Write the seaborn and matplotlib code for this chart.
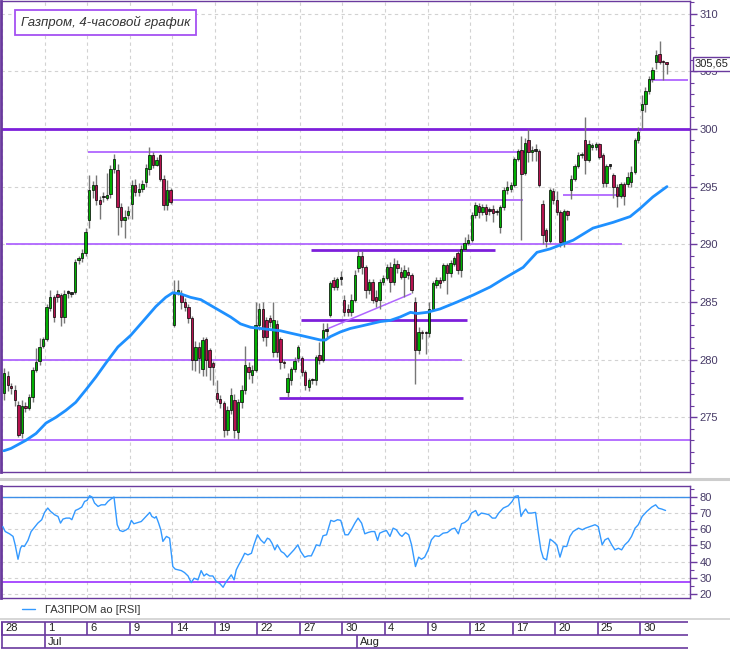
import matplotlib
matplotlib.use('Agg')
import numpy as np
import seaborn as sns
import matplotlib.pyplot as plt
import matplotlib.transforms as mtrans
from matplotlib.lines import Line2D
from matplotlib.ticker import MultipleLocator

# 4-hour candles, 28 Jun - 31 Aug (4 bars per trading day)
opens = [
    277.1, 278.6, 277.7, 277.4, 276.1, 273.6, 276.0, 275.8, 276.8, 279.1, 279.9, 281.2,
    281.8, 284.5, 285.4, 285.7, 285.6, 283.7, 285.8, 285.7, 285.9, 288.6, 288.8, 289.2,
    292.1, 294.7, 295.1, 293.8, 294.1, 294.0, 294.4, 296.5, 296.4, 293.2, 292.1, 292.5,
    293.5, 295.1, 294.5, 294.8, 295.4, 296.5, 297.7, 296.9, 297.7, 295.7, 293.4, 294.7,
    283.0, 285.9, 285.7, 285.0, 284.6, 283.6, 280.0, 281.1, 279.2, 281.8, 280.8, 279.7,
    277.1, 276.6, 276.2, 273.9, 275.6, 276.5, 273.7, 276.3, 277.4, 279.4, 278.7, 279.1,
    283.0, 284.4, 283.4, 283.6, 280.7, 283.1, 281.8, 279.8, 277.2, 278.2, 279.2, 280.1,
    280.1, 278.9, 277.6, 278.2, 278.2, 280.4, 280.0, 282.5, 283.9, 286.9, 286.3, 287.0,
    285.2, 284.4, 284.1, 285.2, 287.9, 289.0, 288.0, 286.0, 286.7, 285.4, 285.2, 286.7,
    287.1, 288.0, 286.7, 288.3, 287.6, 287.2, 287.6, 287.3, 285.0, 280.8, 282.4, 282.3,
    282.3, 284.4, 286.5, 286.9, 286.9, 288.2, 287.5, 288.3, 289.2, 287.8, 289.6, 290.1,
    290.4, 292.5, 293.3, 292.8, 293.2, 292.9, 293.1, 292.8, 291.5, 293.2, 294.7, 294.8,
    295.1, 297.4, 298.2, 296.2, 299.0, 298.0, 298.1, 298.1, 293.5, 291.2, 290.3, 294.6,
    293.8, 292.8, 290.2, 292.9, 294.7, 295.7, 296.8, 297.7, 299.0, 297.3, 298.4, 298.4,
    298.7, 297.7, 295.3, 296.8, 296.0, 295.0, 294.2, 295.2, 295.2, 295.4, 296.3, 299.0,
    301.6, 302.2, 303.3, 304.3, 305.8, 306.5, 305.9, 305.7,
]
highs = [
    279.3, 279.0, 278.0, 277.8, 276.4, 276.5, 276.3, 277.0, 279.4, 281.0, 281.9, 282.0,
    284.8, 286.0, 285.6, 286.0, 285.8, 286.0, 286.0, 285.9, 288.7, 289.0, 289.6, 291.4,
    296.0, 295.5, 296.0, 294.2, 294.5, 296.2, 296.9, 297.8, 297.0, 293.6, 293.0, 293.3,
    295.6, 295.7, 295.3, 295.6, 297.0, 298.4, 298.0, 297.6, 297.8, 296.0, 295.6, 294.9,
    286.9, 286.9, 286.0, 285.3, 284.8, 283.8, 281.6, 281.5, 282.0, 282.0, 281.0, 279.9,
    278.2, 276.9, 276.4, 276.0, 277.5, 277.0, 276.6, 277.8, 281.2, 279.8, 279.5, 285.0,
    284.9, 285.0, 283.7, 283.9, 285.0, 283.4, 282.0, 280.0, 278.8, 279.4, 280.2, 281.3,
    280.3, 279.1, 278.4, 278.4, 280.4, 281.5, 283.2, 283.2, 286.8, 287.2, 287.2, 287.7,
    285.6, 284.8, 285.7, 287.8, 289.5, 289.4, 288.2, 287.0, 287.0, 286.0, 287.0, 287.3,
    288.3, 288.5, 288.8, 288.6, 288.0, 288.2, 288.0, 287.5, 285.4, 282.8, 282.6, 282.5,
    285.0, 286.8, 287.2, 287.2, 288.4, 288.4, 288.6, 289.0, 289.4, 289.9, 290.6, 290.9,
    292.8, 293.7, 293.6, 293.5, 293.5, 293.2, 293.4, 293.1, 293.4, 295.0, 295.5, 295.4,
    297.6, 298.3, 299.4, 299.2, 300.0, 298.5, 298.7, 298.3, 293.8, 291.4, 294.9, 294.9,
    294.6, 293.0, 293.1, 293.0, 296.0, 297.0, 298.0, 298.0, 301.0, 299.0, 298.8, 298.9,
    298.8, 297.9, 297.0, 297.0, 296.2, 295.2, 295.4, 295.4, 296.3, 296.8, 299.2, 300.2,
    302.9, 303.6, 304.6, 305.4, 306.8, 307.6, 306.0, 305.8,
]
lows = [
    276.5, 277.3, 277.0, 276.0, 273.3, 273.2, 275.5, 275.6, 276.3, 278.9, 279.5, 281.0,
    281.6, 284.2, 283.3, 285.0, 282.9, 283.2, 285.3, 285.4, 285.7, 288.3, 288.5, 289.0,
    291.4, 294.0, 293.4, 292.2, 293.7, 293.8, 294.0, 296.2, 290.8, 291.5, 290.5, 292.2,
    292.2, 294.2, 294.2, 294.5, 295.0, 296.0, 296.6, 296.8, 295.5, 293.0, 293.0, 293.5,
    282.8, 285.6, 284.4, 284.2, 283.2, 279.1, 279.0, 278.8, 278.6, 278.6, 278.2, 277.8,
    276.3, 275.8, 273.3, 273.5, 275.3, 273.2, 273.1, 275.8, 277.0, 278.3, 278.0, 278.9,
    282.6, 281.6, 281.2, 282.8, 280.2, 280.2, 279.2, 279.3, 276.8, 277.8, 278.9, 279.8,
    278.6, 277.4, 277.3, 277.9, 277.8, 279.6, 279.8, 282.0, 283.7, 286.0, 286.0, 286.5,
    283.8, 283.8, 283.8, 285.0, 287.6, 287.4, 285.3, 285.7, 284.9, 284.6, 284.4, 286.5,
    286.9, 285.9, 286.5, 287.5, 287.0, 285.4, 287.0, 285.8, 277.9, 280.5, 281.8, 280.5,
    282.0, 284.2, 286.2, 286.2, 286.7, 285.7, 287.2, 288.1, 287.4, 287.2, 289.4, 289.9,
    290.2, 292.3, 292.3, 292.5, 292.0, 292.5, 291.9, 292.5, 291.0, 293.0, 294.4, 294.5,
    295.0, 297.2, 290.4, 296.0, 297.1, 297.2, 297.2, 295.0, 290.0, 289.8, 290.1, 293.5,
    292.5, 289.8, 289.8, 292.1, 293.9, 295.5, 296.6, 297.5, 296.1, 297.1, 298.2, 298.2,
    297.4, 295.0, 295.0, 296.5, 294.0, 293.2, 294.0, 293.4, 295.0, 295.0, 296.1, 298.8,
    300.0, 301.5, 303.0, 304.1, 305.2, 305.6, 304.2, 304.8,
]
closes = [
    278.8, 277.8, 277.5, 276.5, 273.5, 276.0, 275.8, 276.8, 279.1, 279.8, 281.1, 281.8,
    284.6, 285.4, 283.7, 285.4, 283.7, 285.7, 285.8, 285.7, 288.5, 288.8, 289.2, 291.1,
    294.7, 295.1, 293.8, 293.5, 294.1, 294.3, 296.5, 297.4, 293.2, 292.1, 292.4, 292.9,
    295.1, 294.5, 294.8, 295.2, 296.6, 297.7, 296.9, 297.3, 295.7, 293.4, 294.7, 293.7,
    285.7, 286.0, 285.0, 284.6, 283.6, 280.0, 281.1, 280.1, 281.7, 280.0, 279.4, 279.4,
    276.6, 276.2, 273.9, 275.6, 276.9, 273.9, 276.3, 277.4, 279.5, 278.9, 279.1, 283.0,
    284.4, 282.0, 282.0, 283.3, 283.4, 280.7, 279.8, 279.7, 278.4, 279.2, 279.9, 281.1,
    278.9, 277.8, 278.2, 278.2, 280.2, 280.0, 282.6, 282.5, 286.6, 286.3, 287.0, 287.0,
    284.1, 284.1, 285.2, 287.3, 289.0, 288.0, 286.0, 286.7, 285.2, 285.1, 286.7, 287.1,
    288.0, 286.7, 288.3, 287.9, 287.2, 287.8, 287.3, 286.0, 280.8, 282.4, 282.3, 282.3,
    284.4, 286.6, 286.9, 286.6, 288.2, 287.5, 288.4, 288.8, 287.8, 289.6, 290.1, 290.4,
    292.5, 293.4, 292.8, 293.2, 292.6, 292.9, 292.7, 292.8, 293.2, 294.7, 295.0, 295.1,
    297.4, 298.1, 296.1, 298.8, 298.0, 298.2, 298.1, 295.1, 290.8, 290.3, 294.7, 293.8,
    292.8, 290.2, 292.9, 292.5, 295.7, 296.8, 297.7, 297.8, 297.3, 298.7, 298.6, 298.7,
    297.6, 295.3, 296.8, 296.8, 295.0, 294.2, 295.2, 294.2, 295.8, 296.3, 299.0, 299.7,
    302.2, 303.3, 304.3, 305.1, 306.4, 305.8, 305.8, 305.65,
]
last_price = 305.65

# moving average (bar position, value)
ma_points = [
    (-0.1, 272.1), (1.9, 272.3), (6.1, 273.0), (9.0, 273.6), (11.8, 274.5), (14.6, 275.0),
    (17.4, 275.6), (20.2, 276.3), (23.1, 277.4), (25.9, 278.5), (28.7, 279.7), (32.1, 281.1),
    (35.7, 282.1), (39.4, 283.4), (42.8, 284.6), (45.6, 285.4), (47.6, 285.8), (49.8, 285.7),
    (52.6, 285.4), (55.5, 285.2), (58.3, 284.7), (61.1, 284.2), (63.9, 283.7), (66.7, 283.1),
    (69.6, 282.8), (72.4, 282.7), (75.2, 282.6), (78.0, 282.5), (80.8, 282.3), (83.7, 282.1),
    (86.5, 281.9), (89.3, 281.7), (90.7, 281.7), (92.1, 282.0), (94.9, 282.4), (97.7, 282.7),
    (100.6, 282.9), (103.4, 283.1), (106.2, 283.3), (109.0, 283.4), (111.8, 283.7), (114.7, 284.1),
    (116.6, 284.0), (119.4, 284.1), (123.1, 284.4), (127.9, 285.0), (132.4, 285.6), (137.2, 286.3),
    (140.9, 287.0), (146.5, 288.0), (150.4, 289.3), (154.1, 289.6), (160.6, 290.35), (166.2, 291.4),
    (171.9, 291.9), (176.7, 292.4), (179.5, 293.1), (183.1, 294.1), (187.1, 295.0),
]

# RSI (bar position, value)
rsi_points = [
    (-0.4, 61.6), (0.3, 58.5), (1.5, 57.1), (2.5, 55.5), (3.1, 50.3), (3.9, 41.4), (4.6, 48.2),
    (5.0, 49.7), (5.7, 49.3), (6.7, 53.0), (7.6, 58.5), (8.6, 61.2), (9.5, 63.7), (10.6, 65.8),
    (11.4, 70.3), (12.3, 73.0), (13.1, 70.9), (13.7, 69.9), (14.2, 68.9), (15.2, 67.8), (15.9, 63.7),
    (16.6, 66.2), (17.5, 66.8), (18.5, 66.8), (19.1, 65.8), (20.1, 71.5), (21.0, 72.4), (21.9, 73.6),
    (22.7, 77.1), (23.4, 77.7), (24.1, 80.6), (24.8, 79.8), (25.5, 76.1), (26.5, 74.0), (27.4, 75.0),
    (28.5, 75.0), (29.3, 77.1), (30.1, 78.5), (31.0, 79.8), (31.9, 62.7), (32.6, 59.2), (33.5, 58.5),
    (34.5, 59.6), (35.1, 60.6), (35.9, 65.4), (36.6, 63.3), (37.8, 64.1), (38.7, 64.7), (39.6, 66.8),
    (41.1, 70.3), (41.7, 67.8), (42.5, 66.8), (42.9, 67.8), (43.6, 63.7), (44.2, 59.6), (44.8, 52.4),
    (45.8, 55.5), (46.7, 54.4), (47.6, 36.9), (48.3, 35.3), (50.0, 34.4), (50.9, 33.2), (51.9, 31.1),
    (52.8, 27.0), (53.6, 29.7), (54.7, 28.7), (55.6, 34.4), (56.4, 31.1), (57.1, 32.4), (58.0, 31.1),
    (58.9, 31.1), (59.9, 27.6), (60.8, 26.6), (61.8, 24.1), (62.4, 26.6), (63.4, 29.7), (64.1, 31.8),
    (64.9, 28.7), (65.5, 34.8), (66.2, 37.9), (66.9, 40.6), (67.9, 45.1), (68.8, 44.1), (69.8, 45.1),
    (70.5, 50.3), (71.5, 56.5), (72.4, 53.4), (73.4, 51.3), (74.3, 54.4), (74.9, 53.8), (75.6, 51.3),
    (76.4, 47.2), (77.1, 50.3), (78.2, 46.2), (79.0, 45.1), (79.9, 42.7), (80.9, 45.1), (81.8, 47.2),
    (82.9, 50.3), (83.7, 46.2), (84.8, 42.7), (85.8, 43.5), (86.7, 43.5), (87.5, 47.2), (88.1, 50.3),
    (89.1, 49.7), (90.0, 55.9), (91.0, 56.5), (92.2, 65.4), (93.1, 64.7), (94.1, 65.8), (95.0, 65.4),
    (96.2, 56.5), (97.1, 56.5), (98.0, 59.6), (99.0, 63.7), (99.9, 66.8), (100.9, 63.7), (101.8, 57.1),
    (102.7, 57.9), (103.7, 58.5), (104.6, 58.5), (105.4, 53.0), (106.0, 57.5), (107.0, 58.5),
    (107.9, 59.2), (108.9, 55.5), (109.8, 60.6), (110.7, 59.6), (111.7, 56.5), (112.3, 55.5),
    (113.3, 57.9), (114.2, 56.5), (115.0, 50.3), (116.1, 36.9), (117.0, 42.7), (117.8, 41.4),
    (118.7, 42.7), (119.7, 47.2), (120.6, 53.4), (121.6, 55.9), (122.7, 55.5), (123.9, 57.5),
    (125.1, 57.9), (126.3, 60.0), (127.2, 60.6), (128.2, 57.1), (129.1, 63.3), (130.0, 64.1),
    (131.0, 65.8), (131.9, 69.9), (133.1, 71.5), (133.8, 68.3), (134.7, 69.9), (135.7, 69.5),
    (136.8, 68.9), (137.8, 66.8), (138.7, 66.8), (139.6, 69.9), (140.9, 73.0), (142.3, 74.4),
    (143.4, 77.1), (144.2, 80.2), (145.1, 80.6), (145.9, 67.8), (146.5, 70.3), (147.2, 72.4),
    (147.9, 69.9), (148.9, 69.9), (150.0, 70.3), (150.8, 57.5), (151.5, 47.2), (152.2, 42.1),
    (153.1, 41.0), (154.1, 53.8), (155.0, 52.4), (156.0, 50.3), (156.9, 42.7), (157.8, 49.3),
    (158.8, 49.3), (159.7, 55.5), (160.6, 58.5), (162.1, 60.6), (163.2, 59.6), (164.1, 60.6),
    (165.4, 61.6), (166.8, 62.7), (167.7, 61.6), (168.8, 50.3), (169.6, 53.4), (170.5, 54.4),
    (171.5, 50.3), (172.4, 47.2), (173.4, 48.2), (174.3, 47.2), (175.2, 50.3), (176.2, 52.4),
    (177.1, 55.5), (178.1, 60.6), (179.0, 62.7), (180.1, 67.8), (181.4, 70.9), (182.8, 73.6),
    (183.9, 75.0), (184.7, 72.9), (185.6, 72.4), (186.7, 71.5),
]
rsi_upper = 80.0
rsi_lower = 27.2

# horizontal support / resistance levels (price, from bar, to bar, bold)
level_price = [300.0, 298.0, 293.8, 290.0, 289.5, 283.4, 280.0, 276.7, 273.0, 304.2, 294.25]
level_from = [-0.9, 23.6, 46.2, 0.5, 86.5, 83.7, -0.9, 77.5, -0.9, 182.3, 157.8]
level_to = [193.6, 148.5, 146.5, 174.4, 138.6, 130.7, 129.3, 129.6, 193.6, 193.0, 175.3]
level_bold = [True, False, False, False, True, True, False, True, False, False, False]
trend_bars = [91.5, 114.8]
trend_prices = [282.7, 285.7]

# date axis: first bar of each labelled day
tick_bars = [0, 12, 24, 36, 48, 60, 72, 84, 96, 108, 120, 132, 144, 156, 168, 180]
tick_labels = ['28', '1', '6', '9', '14', '19', '22', '27', '30', '4', '9', '12', '17', '20', '25', '30']
month_bars = [12, 100]
month_labels = ['Jul', 'Aug']

title = 'Газпром, 4-часовой график'
rsi_name = 'ГАЗПРОМ ао [RSI]'

# ---- style
sns.set_theme(style='white')
plt.rcParams['font.family'] = ['Liberation Sans', 'DejaVu Sans']

PURPLE = '#6a3a9e'
BOLD_LVL = '#7d1fdb'
THIN_LVL = '#b066ff'
GREEN = '#00b000'
RED = '#b5124f'
GRID = '#d2d2d2'
LABEL = '#463a66'
XLIM = (-0.9, 193.6)

W, H = 730, 650
fig = plt.figure(figsize=(W / 100, H / 100), dpi=100)
fig.patch.set_facecolor('white')


def frac_box(x0, y0, x1, y1):
    return [x0 / W, 1 - y1 / H, (x1 - x0) / W, (y1 - y0) / H]


ax = fig.add_axes(frac_box(1, 0.5, 690, 472))
ax_rsi = fig.add_axes(frac_box(1, 486, 690, 598))
ax_date = fig.add_axes(frac_box(1, 621, 690, 649))

grid_x = [b - 0.5 for b in tick_bars]

for a in (ax, ax_rsi):
    a.set_xlim(*XLIM)
    a.set_xticks(grid_x)
    a.tick_params(axis='x', bottom=False, labelbottom=False)
    a.grid(True, axis='both', color=GRID, ls=(0, (3, 3)), lw=0.8)
    a.set_axisbelow(True)
    a.yaxis.tick_right()
    a.tick_params(axis='y', which='major', right=True, length=5, width=1, color=PURPLE,
                  labelcolor=LABEL, labelsize=8, pad=2)
    a.tick_params(axis='y', which='minor', right=True, length=3, width=0.8, color=PURPLE)
    for s in a.spines.values():
        s.set_color(PURPLE)
        s.set_linewidth(1.0)
    a.spines['left'].set_linewidth(2.0)

# ---- price panel
ax.set_ylim(270.26, 311.13)
ax.set_yticks(range(275, 311, 5))
ax.yaxis.set_minor_locator(MultipleLocator(1))

x = np.arange(len(closes))
o = np.array(opens)
c = np.array(closes)
bottoms = np.minimum(o, c)
heights = np.maximum(np.abs(c - o), 0.12)
colors = [GREEN if cc > oo else (RED if cc < oo else '#222222') for oo, cc in zip(opens, closes)]

for p, f, t, b in zip(level_price, level_from, level_to, level_bold):
    ax.hlines(p, f, t, color=BOLD_LVL if b else THIN_LVL, lw=2.0 if b else 1.3, zorder=2)
ax.plot(trend_bars, trend_prices, color=THIN_LVL, lw=1.1, zorder=2)

ax.vlines(x, lows, highs, color='#777777', lw=1.0, zorder=3)
ax.bar(x, heights, bottom=bottoms, width=0.68, color=colors, edgecolor='black', linewidth=0.5, zorder=4)

ma_x, ma_y = zip(*ma_points)
sns.lineplot(x=list(ma_x), y=list(ma_y), ax=ax, color='#1e90ff', lw=2.0, sort=False, estimator=None, zorder=5)

ax.text(20 / 689, 1 - 22 / 472, title, transform=ax.transAxes, fontsize=9.5, fontstyle='italic',
        color='#333333', va='center', ha='left',
        bbox=dict(boxstyle='square,pad=0.45', fc='white', ec='#a551f2', lw=1.3), zorder=10)

tr = mtrans.blended_transform_factory(ax.transAxes, ax.transData)
ax.text(1.007, last_price, f'{last_price:.2f}'.replace('.', ','), transform=tr, fontsize=8,
        color='#222222', va='center', ha='left', clip_on=False, zorder=10,
        bbox=dict(boxstyle='square,pad=0.18', fc='white', ec=PURPLE, lw=1.0))

# ---- RSI panel
ax_rsi.set_ylim(17.5, 86.6)
ax_rsi.set_yticks(range(20, 81, 10))
ax_rsi.yaxis.set_minor_locator(MultipleLocator(5))
ax_rsi.axhline(rsi_upper, color='#3d8fe8', lw=1.0, zorder=2)
ax_rsi.axhline(rsi_lower, color='#9b30ff', lw=1.2, zorder=2)
r_x, r_y = zip(*rsi_points)
sns.lineplot(x=list(r_x), y=list(r_y), ax=ax_rsi, color='#3399ff', lw=1.0, sort=False, estimator=None, zorder=3)

fig.legend(handles=[Line2D([], [], color='#3399ff', lw=1.0)], labels=[rsi_name],
           loc='center left', bbox_to_anchor=(22 / W, 1 - 610 / H), frameon=False,
           fontsize=8, handlelength=1.2, handletextpad=0.9, borderaxespad=0, borderpad=0,
           labelcolor='#333333')

# ---- date strip
ax_date.set_xlim(*XLIM)
ax_date.set_ylim(-0.05, 2.05)
ax_date.axis('off')
ax_date.hlines([0, 1, 2], XLIM[0], 193.0, color=PURPLE, lw=1.2, clip_on=False)
ax_date.vlines([XLIM[0] + 0.25], 0, 2, color=PURPLE, lw=1.2)
ax_date.vlines(grid_x, 1, 2, color=PURPLE, lw=1.2)
ax_date.vlines([b - 0.5 for b in month_bars], 0, 1, color=PURPLE, lw=1.2)
for gx, lab in zip(grid_x, tick_labels):
    ax_date.text(gx + 0.9, 1.5, lab, fontsize=8, color='#222222', va='center', ha='left')
for b, lab in zip(month_bars, month_labels):
    ax_date.text(b - 0.5 + 0.9, 0.5, lab, fontsize=8, color='#222222', va='center', ha='left')

# window separators
fig.add_artist(Line2D([0, 1], [1 - 479 / H] * 2, color='#cdcdcd', lw=2.2))
fig.add_artist(Line2D([0, 1], [1 - 618.5 / H] * 2, color='#d6d6d6', lw=1.4))

fig.savefig('out.png', dpi=100, facecolor='white')
